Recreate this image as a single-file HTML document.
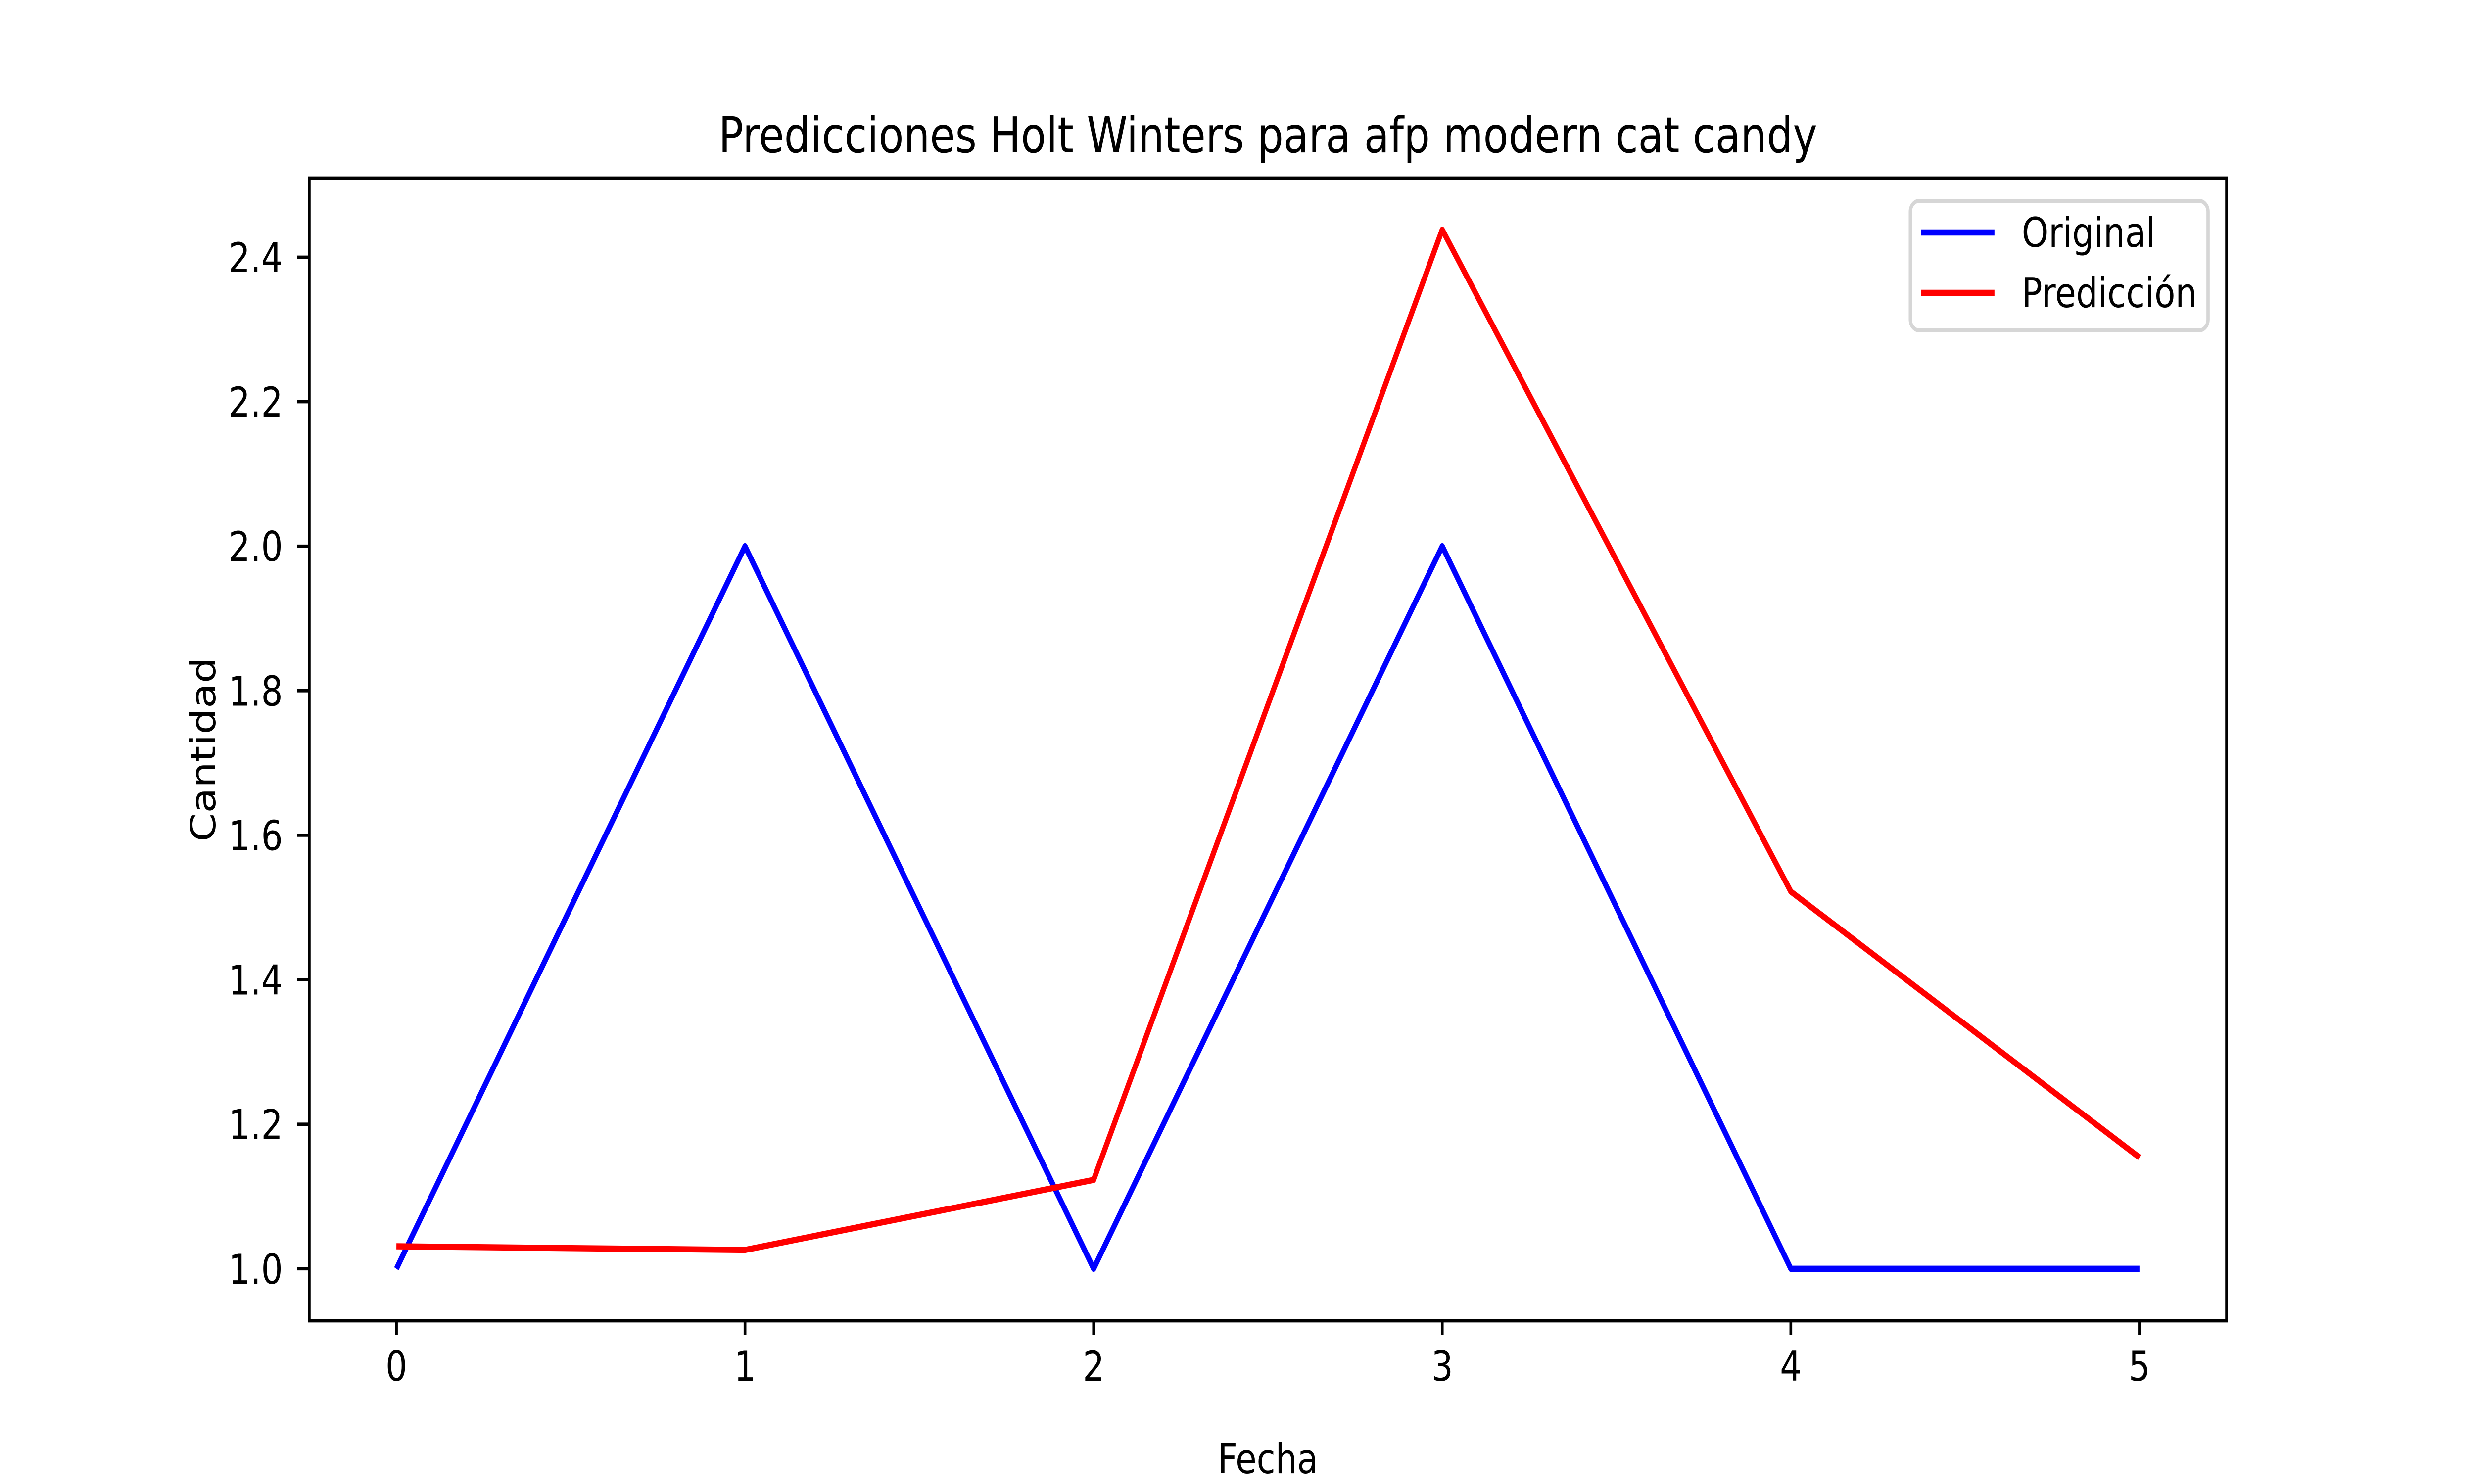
<!DOCTYPE html>
<html><head><meta charset="utf-8"><style>
html,body{margin:0;padding:0;background:#fff;overflow:hidden;width:100vw;height:100vh;}
svg{display:block;width:100vw;height:100vh;font-family:"DejaVu Sans","Liberation Sans",sans-serif;}
</style></head><body>
<svg id="chart" viewBox="0 0 6000 3000" preserveAspectRatio="none" xmlns="http://www.w3.org/2000/svg">
<rect width="6000" height="3000" fill="#fff"/>
<g id="plot"></g>
<text x="3075" y="308" font-size="100" text-anchor="middle">Predicciones Holt Winters para afp modern cat candy</text>
<text x="3075" y="2978" font-size="83" text-anchor="middle">Fecha</text>
<text x="0" y="0" font-size="83" text-anchor="middle" transform="translate(522,1515) rotate(-90)">Cantidad</text>
<g>
<rect x="4633" y="406" width="722" height="262" rx="22" fill="#fff" fill-opacity="0.8" stroke="#d6d6d6" stroke-width="8"/>
<line x1="4659" y1="470" x2="4837" y2="470" stroke="#0000ff" stroke-width="12.5"/>
<text x="4903" y="499" font-size="83">Original</text>
<line x1="4659" y1="592" x2="4837" y2="592" stroke="#ff0000" stroke-width="12.5"/>
<text x="4903" y="621" font-size="83">Predicción</text>
</g>
</svg>
<script>
const categories = [0, 1, 2, 3, 4, 5];
const originalValues = [1, 2, 1, 2, 1, 1];
const predictionValues = [1.031, 1.026, 1.123, 2.438, 1.522, 1.154];
const yTickLabels = ["1.0", "1.2", "1.4", "1.6", "1.8", "2.0", "2.2", "2.4"];
const xTickLabels = ["0", "1", "2", "3", "4", "5"];

const NS = "http://www.w3.org/2000/svg";
const L = 750, R = 5400, T = 360, B = 2670;
const xmin = -0.25, xmax = 5.25, ymin = 0.928, ymax = 2.5095;
function xs(v){ return L + (v - xmin) / (xmax - xmin) * (R - L); }
function ys(v){ return B - (v - ymin) / (ymax - ymin) * (B - T); }
const g = document.getElementById('plot');
function mk(tag, attrs){ const e = document.createElementNS(NS, tag); for (const k in attrs) e.setAttribute(k, attrs[k]); return e; }

function series(vals, color, name){
  const pts = categories.map((c, i) => xs(c) + ',' + ys(vals[i])).join(' ');
  const p = mk('polyline', {points: pts, fill: 'none', stroke: color, 'stroke-width': 12.5, 'stroke-linejoin': 'round'});
  
  
  g.appendChild(p);
}
series(originalValues, '#0000ff', 'series-original');
series(predictionValues, '#ff0000', 'series-prediccion');

const frame = mk('rect', {x: L, y: T, width: R - L, height: B - T, fill: 'none', stroke: '#000', 'stroke-width': 6.7});


g.appendChild(frame);

xTickLabels.forEach((lab, i) => {
  const x = xs(categories[i]);
  const t = mk('line', {x1: x, y1: B, x2: x, y2: B + 29, stroke: '#000', 'stroke-width': 6.7});
  
  
  g.appendChild(t);
  const tx = mk('text', {x: x, y: 2791, 'font-size': 83, 'text-anchor': 'middle'});
  tx.textContent = lab;
  
  
  g.appendChild(tx);
});
yTickLabels.forEach(lab => {
  const y = ys(parseFloat(lab));
  const t = mk('line', {x1: L - 29, y1: y, x2: L, y2: y, stroke: '#000', 'stroke-width': 6.7});
  
  
  g.appendChild(t);
  const tx = mk('text', {x: 686, y: y + 30, 'font-size': 83, 'text-anchor': 'end'});
  tx.textContent = lab;
  
  
  g.appendChild(tx);
});
</script>
</body></html>
